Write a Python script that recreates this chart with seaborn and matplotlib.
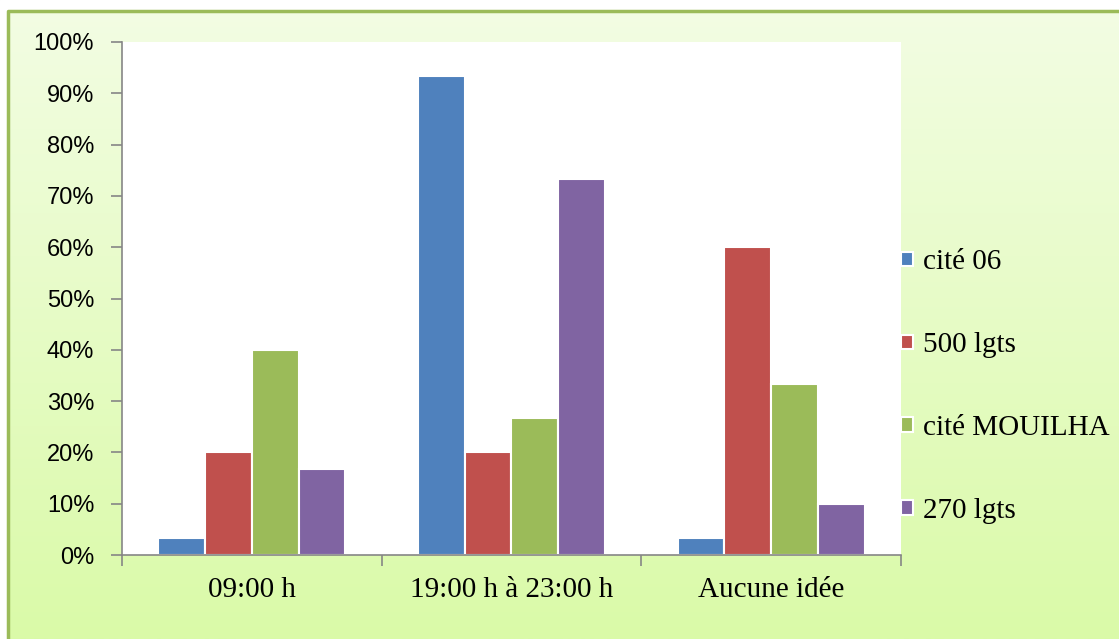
import numpy as np
import pandas as pd
import seaborn as sns
from matplotlib import pyplot as plt
from matplotlib.colors import LinearSegmentedColormap
from matplotlib.patches import Rectangle
from matplotlib.ticker import PercentFormatter

# Data
periods = ['09:00 h', '19:00 h à 23:00 h', 'Aucune idée']
sites = ['cité 06', '500 lgts', 'cité MOUILHA', '270 lgts']
cite_06 = [3.3, 93.3, 3.3]
lgts_500 = [20.0, 20.0, 60.0]
mouilha = [40.0, 26.7, 33.3]
lgts_270 = [16.7, 73.3, 10.0]
colors = ['#4F81BD', '#C0504D', '#9BBB59', '#8064A2']

df = pd.DataFrame({'period': periods * 4,
                   'site': np.repeat(sites, 3),
                   'value': cite_06 + lgts_500 + mouilha + lgts_270})

fig = plt.figure(figsize=(11.19, 6.39), dpi=100)

# gradient background + green frame
bg = fig.add_axes([0, 0, 1, 1], zorder=-10)
grad = LinearSegmentedColormap.from_list('g', ['#F3FDE4', '#DAFAA8'])
bg.imshow(np.linspace(0, 1, 256).reshape(-1, 1), aspect='auto', cmap=grad,
          extent=[0, 1, 0, 1], origin='upper')
bg.add_patch(Rectangle((0, 0), 8 / 1119, 1, color='white', zorder=2))
bg.add_patch(Rectangle((0, 1 - 11 / 639), 1, 11 / 639, color='white', zorder=2))
bg.plot([8 / 1119, 8 / 1119, 1], [0, 1 - 11 / 639, 1 - 11 / 639],
        color='#9BBB59', lw=2.5, zorder=3)
bg.set_xlim(0, 1)
bg.set_ylim(0, 1)
bg.axis('off')

ax = fig.add_axes([122 / 1119, 1 - 555 / 639, 779 / 1119, 513 / 639])
ax.set_facecolor('white')
sns.barplot(data=df, x='period', y='value', hue='site', palette=colors,
            saturation=1, width=0.72, edgecolor='white', linewidth=1.5, ax=ax)

ax.set_ylim(0, 100)
ax.set_xlim(-0.5, 2.5)
ax.set_yticks(range(0, 101, 10))
ax.yaxis.set_major_formatter(PercentFormatter(decimals=0))
ax.set_xticks([-0.5, 0.5, 1.5, 2.5])
ax.set_xticklabels([])
ax.tick_params(axis='x', length=8, color='#868686', width=1.2)
ax.tick_params(axis='y', length=8, color='#868686', width=1.2, pad=12)
for lab in ax.get_yticklabels():
    lab.set_fontfamily('Liberation Sans')
    lab.set_fontsize(17)
for i, p in enumerate(periods):
    ax.text(i, -6.8, p, ha='center', va='center', fontsize=21,
            family='Liberation Serif')
ax.set_xlabel('')
ax.set_ylabel('')
for s in ['top', 'right']:
    ax.spines[s].set_visible(False)
for s in ['left', 'bottom']:
    ax.spines[s].set_color('#868686')
    ax.spines[s].set_linewidth(1.2)

leg = ax.legend(loc='center left', bbox_to_anchor=(1.0, 0.328), frameon=False,
                prop={'family': 'Liberation Serif', 'size': 21},
                borderaxespad=0, borderpad=0,
                handlelength=0.4, handleheight=0.4, handletextpad=0.35,
                labelspacing=1.95)

fig.savefig('out.png', dpi=100)
